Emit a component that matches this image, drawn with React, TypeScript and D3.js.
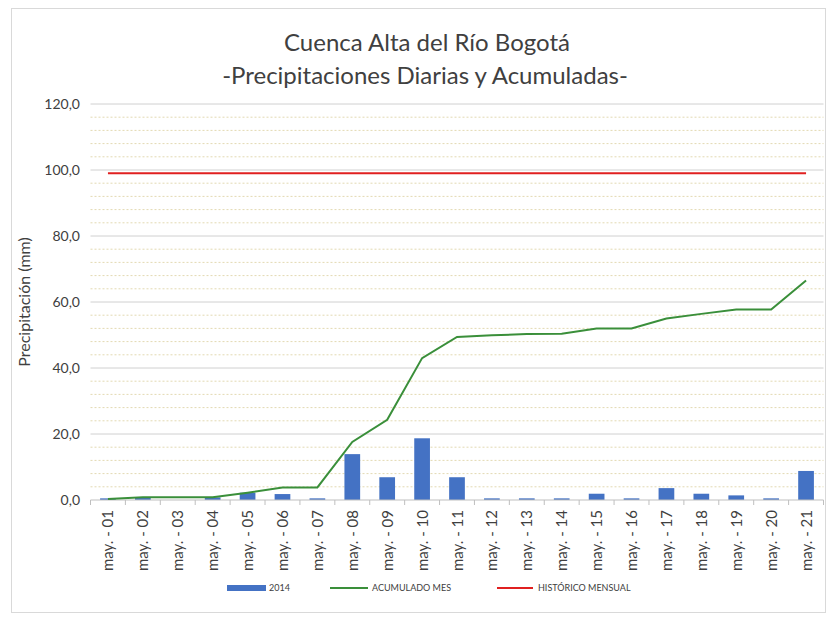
import React from 'react';
import { scaleLinear, scaleBand, line, range } from 'd3';

const days = ['01','02','03','04','05','06','07','08','09','10','11','12','13','14','15','16','17','18','19','20','21'];
const daily2014 = [0.5, 0.8, 0, 0.8, 2.2, 1.8, 0.5, 13.9, 6.9, 18.7, 6.9, 0.5, 0.5, 0.5, 1.9, 0.5, 3.6, 1.9, 1.4, 0.5, 8.8];
const acumulado = [0.3, 0.8, 0.8, 0.8, 2.2, 3.8, 3.8, 17.6, 24.3, 43.0, 49.4, 49.9, 50.3, 50.4, 52.0, 52.0, 55.0, 56.4, 57.7, 57.7, 66.5];
const historico = days.map(() => 99.0);
const yTicks = [0, 20, 40, 60, 80, 100, 120];

const W = 828, H = 620;
const left = 90.5, right = 823.5, top = 104, bottom = 500;
const FONT = 'Lato, "Open Sans", sans-serif';

export default function App() {
  const x = scaleBand<string>().domain(days).range([left, right]).paddingInner(0.55).paddingOuter(0.275);
  const xc = scaleBand<string>().domain(days).range([left, right]);
  const y = scaleLinear().domain([0, 120]).range([bottom, top]);
  const center = (d: string) => (xc(d) as number) + xc.bandwidth() / 2;
  const ln = line<number>().x((_, i) => center(days[i])).y(v => y(v));
  const minor = range(0, 121, 4).filter(v => v % 20 !== 0);
  const fmt = (v: number) => v.toFixed(1).replace('.', ',');

  return (
    <svg width={W} height={H} style={{ position: 'absolute', left: 0, top: 0 }} fontFamily={FONT}>
      <rect x={0} y={0} width={W} height={H} fill="#fff" />
      <rect x={11.5} y={8.5} width={814} height={604} fill="none" stroke="#d9d9d9" />
      <text x={427} y={51} textAnchor="middle" fontSize={24} fill="#404040">Cuenca Alta del Río Bogotá</text>
      <text x={425} y={84} textAnchor="middle" fontSize={24} fill="#404040">-Precipitaciones Diarias y Acumuladas-</text>

      {minor.map(v => (
        <line key={'m' + v} x1={left} x2={right} y1={y(v)} y2={y(v)} stroke="#e3d9b2" strokeDasharray="2,2" />
      ))}
      {yTicks.map(v => (
        <g key={v}>
          {v > 0 && <line x1={left} x2={right} y1={y(v)} y2={y(v)} stroke="#d0d0d0" />}
          <text x={80} y={y(v) + 5} textAnchor="end" fontSize={14} fill="#404040">{fmt(v)}</text>
        </g>
      ))}
      <text transform={`translate(30,${(top + bottom) / 2}) rotate(-90)`} textAnchor="middle" fontSize={16} fill="#404040">Precipitación (mm)</text>

      {daily2014.map((v, i) => (
        <rect key={i} x={x(days[i])} y={y(v)} width={x.bandwidth()} height={bottom - y(v)} fill="#4472c4" />
      ))}

      <line x1={left} x2={right} y1={bottom} y2={bottom} stroke="#bfbfbf" />
      {range(days.length + 1).map(i => {
        const px = left + i * xc.bandwidth();
        return <line key={i} x1={px} x2={px} y1={bottom} y2={bottom + 5} stroke="#bfbfbf" />;
      })}
      {days.map(d => (
        <text key={d} transform={`translate(${center(d) + 5.5},${bottom + 10}) rotate(-90)`} textAnchor="end" fontSize={15} fill="#404040">{`may. - ${d}`}</text>
      ))}

      <path d={ln(historico) || ''} fill="none" stroke="#e02020" strokeWidth={2} />
      <path d={ln(acumulado) || ''} fill="none" stroke="#3a8f3a" strokeWidth={2} />

      <g fontSize={9} fill="#404040">
        <rect x={227} y={585} width={39} height={6} fill="#4472c4" />
        <text x={269} y={591}>2014</text>
        <line x1={330} x2={368} y1={588} y2={588} stroke="#3a8f3a" strokeWidth={2} />
        <text x={372} y={591}>ACUMULADO MES</text>
        <line x1={497} x2={533} y1={588} y2={588} stroke="#e02020" strokeWidth={2} />
        <text x={538} y={591}>HISTÓRICO MENSUAL</text>
      </g>
    </svg>
  );
}
